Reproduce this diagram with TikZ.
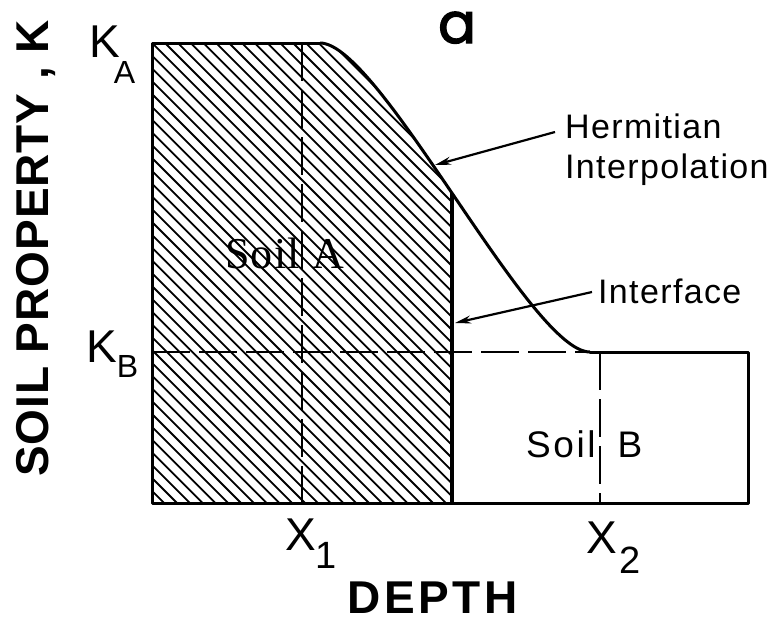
\documentclass[tikz,border=0pt]{standalone}
\usepackage{fontspec}
\setmainfont{Liberation Sans}
\newfontfamily\serifsoil{Liberation Serif}
\newfontfamily\afont[FakeBold=2.5]{Poppins}
\usetikzlibrary{arrows.meta}
\begin{document}
\begin{tikzpicture}[x=1pt,y=-1pt,
  outline/.style={line width=3pt, line cap=round, line join=round},
  dashln/.style={line width=2.4pt, dash pattern=on 38pt off 9pt},
  hatchln/.style={line width=1.8pt},
  lbl/.style={inner sep=0pt, anchor=base west, font=\fontsize{34}{36}\selectfont\addfontfeature{LetterSpace=4}},
  big/.style={inner sep=0pt, anchor=base west, font=\fontsize{46}{48}\selectfont},
  ptr/.style={line width=2.2pt, -{Stealth[length=16pt,width=8pt]}},
]
\useasboundingbox (0,0) rectangle (769,622);
\fill[white] (0,0) rectangle (769,622);

% hatching of soil A
\begin{scope}
  \clip (152,30) rectangle (452,503);
  \clip (152,503) -- (152,43) -- (320,43) .. controls (380,43) and (530,352) .. (590,352) -- (590,503) -- cycle;
  \foreach \c in {-360,-347.2,...,460} \draw[hatchln] (\c,30) -- ++(480,480);
\end{scope}

% dashed lines
\draw[dashln] (152,352) -- (590,352);
\draw[dashln] (302,43) -- (302,503);
\draw[dashln] (600,352) -- (600,503);

% outlines
\draw[outline] (320,43) -- (152,43) -- (152,503) -- (748,503) -- (748,352) -- (590,352);
\draw[line width=3pt] (320,43) .. controls (380,43) and (530,352) .. (590,352);
\draw[line width=4.5pt] (452,193) -- (452,503);

% labels
\node[anchor=base west, inner sep=0pt, font=\afont\fontsize{56}{56}\selectfont] (alabel) at (438,43) {a};
\node[lbl] (herm) at (565,138) {Hermitian};
\node[lbl] (interp) at (565,178) {Interpolation};
\node[lbl] (intf) at (598,303) {Interface};
\node[inner sep=0pt, anchor=base west, font=\serifsoil\fontsize{44}{46}\selectfont\addfontfeature{LetterSpace=3}] (soila) at (225,268) {Soil A};
\node[inner sep=0pt, anchor=base west, font=\fontsize{37}{38}\selectfont\addfontfeature{LetterSpace=7}] (soilb) at (526,457) {Soil\hspace{22pt}B};

\node[big] (ka) at (89,57) {K\hspace{-6pt}\raisebox{-26pt}{\fontsize{32}{32}\selectfont A}};
\node[big] (kb) at (86,362) {K\hspace{0pt}\raisebox{-15pt}{\fontsize{32}{32}\selectfont B}};
\node[big] (x1) at (285,550) {X\hspace{0pt}\raisebox{-18pt}{\fontsize{38}{38}\selectfont 1}};
\node[big] (x2) at (586,553) {X\hspace{3pt}\raisebox{-20pt}{\fontsize{38}{38}\selectfont 2}};

\node[inner sep=0pt, anchor=base west, rotate=90, font=\bfseries\fontsize{46}{48}\selectfont\addfontfeature{LetterSpace=2}] (ylab) at (48,477) {SOIL PROPERTY , K};
\node[inner sep=0pt, anchor=base west, font=\bfseries\fontsize{46}{48}\selectfont\addfontfeature{LetterSpace=8}] (xlab) at (347,613) {DEPTH};

% pointers
\coordinate (hermstart) at (555,132);
\coordinate (hermtip) at (435,165);
\coordinate (intfstart) at (592,292);
\coordinate (intftip) at (455,323);
\draw[ptr] (hermstart) -- (hermtip);
\draw[ptr] (intfstart) -- (intftip);
\end{tikzpicture}
\end{document}
